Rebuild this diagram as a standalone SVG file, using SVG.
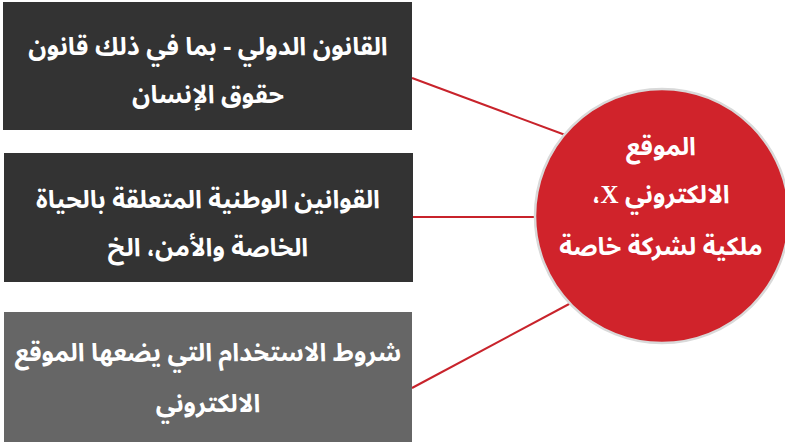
<svg xmlns="http://www.w3.org/2000/svg" width="785" height="442" viewBox="0 0 785 442">
<style>
.t{font-family:"Noto Sans Arabic","Noto Naskh Arabic","DejaVu Sans",sans-serif;font-weight:bold;font-size:25px;fill:#ffffff;text-anchor:middle;direction:rtl}
.c{stroke:#c8232b;stroke-width:2;fill:none}
.x{font-family:"Liberation Serif",serif}
</style>
<rect width="785" height="442" fill="#ffffff"/>
<g id="connectors">
<line class="c" x1="412" y1="78" x2="568" y2="136"/>
<line class="c" x1="412" y1="217" x2="537" y2="217"/>
<line class="c" x1="412" y1="388" x2="571" y2="303"/>
</g>
<g id="box1">
<rect x="3" y="2" width="409" height="128" fill="#333333"/>
<text class="t" x="208" y="55">القانون الدولي - بما في ذلك قانون</text>
<text class="t" x="208" y="103">حقوق الإنسان</text>
</g>
<g id="box2">
<rect x="4" y="153" width="409" height="129" fill="#333333"/>
<text class="t" x="208" y="208">القوانين الوطنية المتعلقة بالحياة</text>
<text class="t" x="208" y="256">الخاصة والأمن، الخ</text>
</g>
<g id="box3">
<rect x="4" y="312" width="408" height="130" fill="#666666"/>
<text class="t" x="208" y="361">شروط الاستخدام التي يضعها الموقع</text>
<text class="t" x="208" y="412">الالكتروني</text>
</g>
<g id="circle">
<circle cx="662" cy="216" r="127" fill="#d0232b" stroke="#d9d9d9" stroke-width="2.5"/>
<text class="t" x="661" y="155" font-size="24">الموقع</text>
<text class="t" x="661" y="203" font-size="24">الالكتروني <tspan class="x">X</tspan>،</text>
<text class="t" x="661" y="255" font-size="24">ملكية لشركة خاصة</text>
</g>
</svg>
